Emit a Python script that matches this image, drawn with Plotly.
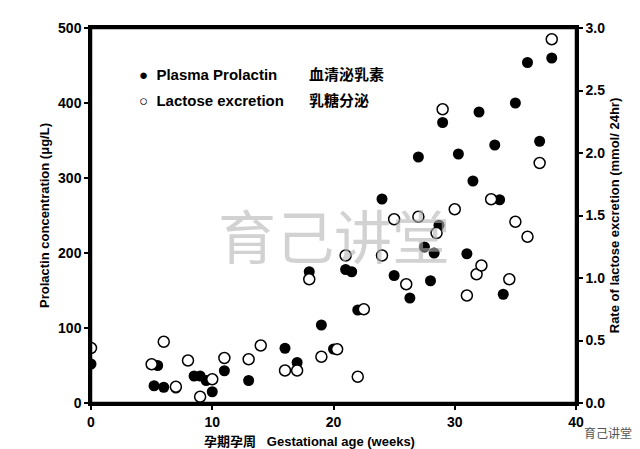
import plotly.graph_objects as go

prl_x = [0,5.5,5.2,6,7,8.5,9,9.5,10,11,13,16,17,18,19,20,21,21.5,22,24,25,26.3,27,27.5,28,28.3,28.7,29,30.3,31,31.5,32,33.3,33.7,34,35,36,37,38]
prl_y = [52,50,23,21,20,36,36,30,15,43,30,73,54,175,104,72,178,175,124,272,170,140,328,208,163,200,237,374,332,199,296,388,344,271,145,400,454,349,460]
lac_x = [0,5,6,7,8,9,10,11,13,14,16,17,18,19,20.3,21,22,22.5,24,25,26,27,28.5,29,30,31,31.8,32.2,33,34.5,35,36,37,38]
lac_y = [0.44,0.31,0.49,0.13,0.34,0.05,0.19,0.36,0.35,0.46,0.26,0.26,0.99,0.37,0.43,1.18,0.21,0.75,1.18,1.47,0.95,1.49,1.36,2.35,1.55,0.86,1.03,1.1,1.63,0.99,1.45,1.33,1.92,2.91]
x_ticks = [0,10,20,30,40]
y_ticks = [0,100,200,300,400,500]
y2_ticks = [0,0.5,1,1.5,2,2.5,3]

F = "Liberation Sans, Arial"
fig = go.Figure()
fig.add_trace(go.Scatter(x=prl_x, y=prl_y, mode="markers", name="Plasma Prolactin",
    marker=dict(color="black", size=11)))
fig.add_trace(go.Scatter(x=lac_x, y=lac_y, mode="markers", name="Lactose excretion", yaxis="y2",
    marker=dict(color="white", size=11, line=dict(color="black", width=1.5))))
def ax():
    return dict(showline=True, linecolor="black", linewidth=2.5, ticks="outside", ticklen=4, tickwidth=2,
          tickcolor="black", showgrid=False, zeroline=False, tickfont=dict(family=F, size=14, color="black"))
tf = dict(family=F, size=13, color="black")
fig.update_layout(
    width=640, height=449, margin=dict(l=83, r=72, t=13, b=54),
    plot_bgcolor="white", paper_bgcolor="white", showlegend=False,
    xaxis=dict(range=[0,40], tickvals=x_ticks, ticktext=[f"<b>{v}</b>" for v in x_ticks], mirror=True, **ax()),
    yaxis=dict(range=[0,500], tickvals=y_ticks, ticktext=[f"<b>{v}</b>" for v in y_ticks], **ax(),
               title=dict(text="<b>Prolactin concentration (μg/L)</b>", font=tf, standoff=6)),
    yaxis2=dict(range=[0,3], tickvals=y2_ticks, ticktext=[f"<b>{v:.1f}</b>" for v in y2_ticks],
                overlaying="y", side="right", **ax(),
                title=dict(text="<b>Rate of lactose excretion (mmol/ 24hr)</b>", font=tf, standoff=6)),
)
fig.add_shape(type="rect", xref="paper", yref="paper", x0=0, y0=0, x1=1, y1=1,
              line=dict(color="black", width=2.5), layer="above")
anns = [
    dict(x=0.095, y=0.905, text="<b>●  Plasma Prolactin</b>"),
    dict(x=0.095, y=0.835, text="<b>○  Lactose excretion</b>"),
    dict(x=0.445, y=0.905, text="<b>血清泌乳素</b>"),
    dict(x=0.445, y=0.835, text="<b>乳糖分泌</b>"),
]
for a in anns:
    fig.add_annotation(xref="paper", yref="paper", showarrow=False, xanchor="left",
                       font=dict(family=F+", Noto Sans CJK SC", size=15, color="black"), **a)
fig.add_annotation(xref="paper", yref="paper", x=0.45, y=-0.078, yanchor="top", showarrow=False,
    text="<b>孕期孕周   Gestational age (weeks)</b>", font=dict(family=F+", Noto Sans CJK SC", size=13, color="black"))
fig.add_annotation(xref="paper", yref="paper", x=0.5, y=0.45, showarrow=False,
    text="育己讲堂", font=dict(family="Noto Sans CJK SC", size=58, color="rgba(180,180,180,0.6)"))
fig.add_annotation(xref="paper", yref="paper", x=1.12, y=-0.05, yanchor="top", xanchor="right", showarrow=False,
    text="育己讲堂", font=dict(family="Noto Sans CJK SC", size=12, color="#555"))
fig.write_html("out.html")
